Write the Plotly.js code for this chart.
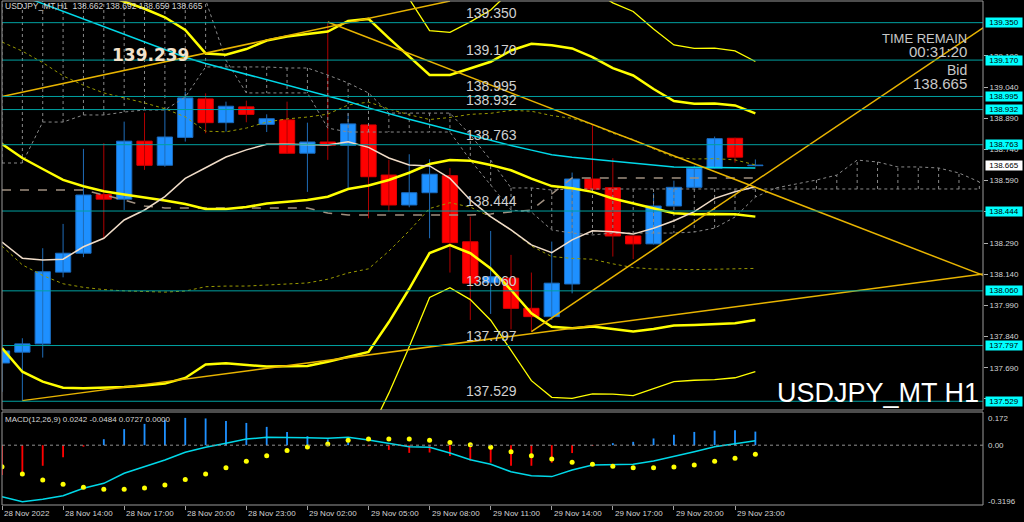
<!DOCTYPE html>
<html><head><meta charset="utf-8">
<script src="https://cdn.plot.ly/plotly-3.0.1.min.js"></script>
<style>html,body{margin:0;padding:0;background:#000;}#chart{width:1024px;height:522px;}</style>
</head><body><div id="chart"></div>
<script>
// ---- candles (H1, 28 Nov 11:00 .. 30 Nov 00:00) ----
const openP  = [137.713,137.765,137.805,138.150,138.241,138.523,138.501,138.780,138.664,138.798,138.983,138.869,138.945,138.861,138.882,138.722,138.776,138.760,138.858,138.617,138.473,138.532,138.614,138.296,138.099,138.121,137.976,137.936,138.093,138.598,138.556,138.324,138.286,138.468,138.558,138.650,138.794,138.662];
const highP  = [137.872,137.832,138.265,138.382,138.743,138.770,138.874,138.917,138.930,139.018,139.010,138.970,138.975,138.909,138.970,138.869,139.353,138.914,138.860,138.690,138.717,138.693,138.650,138.417,138.348,138.233,138.148,138.297,138.629,138.858,138.698,138.326,138.529,138.590,138.662,138.802,138.797,138.692];
const lowP   = [137.574,137.532,137.739,138.125,138.222,138.313,138.449,138.642,138.657,138.778,138.818,138.826,138.871,138.824,138.722,138.536,138.690,138.553,138.409,138.441,138.462,138.313,138.148,137.920,137.949,137.875,137.864,137.920,138.048,138.545,138.225,138.213,138.283,138.465,138.555,138.648,138.677,138.659];
const closeP = [137.771,137.805,138.152,138.241,138.521,138.501,138.780,138.664,138.800,138.988,138.869,138.948,138.909,138.888,138.722,138.776,138.760,138.863,138.609,138.473,138.532,138.621,138.292,138.097,138.128,137.976,137.936,138.097,138.598,138.549,138.324,138.286,138.468,138.558,138.650,138.792,138.703,138.665];

// ---- moving averages ----
const maSlow = [139.515,139.478,139.442,139.405,139.368,139.331,139.294,139.258,139.221,139.184,139.154,139.128,139.102,139.076,139.050,139.024,138.998,138.971,138.940,138.911,138.885,138.860,138.834,138.809,138.783,138.759,138.737,138.715,138.703,138.693,138.683,138.674,138.663,138.656,138.654,138.653,138.652,138.651];
const maFast = [138.295,138.217,138.208,138.212,138.272,138.313,138.401,138.449,138.513,138.601,138.652,138.704,138.738,138.765,138.765,138.762,138.762,138.777,138.750,138.699,138.665,138.661,138.601,138.497,138.417,138.353,138.281,138.244,138.305,138.349,138.344,138.333,138.361,138.397,138.441,138.505,138.537,138.561];

// ---- Bollinger bands ----
const bbMid = [138.766,138.699,138.646,138.594,138.563,138.539,138.524,138.511,138.495,138.478,138.454,138.454,138.463,138.480,138.490,138.497,138.513,138.550,138.567,138.593,138.628,138.670,138.689,138.686,138.665,138.640,138.600,138.564,138.553,138.536,138.504,138.480,138.454,138.433,138.428,138.430,138.428,138.417];
const bbUp2 = [139.747,139.727,139.669,139.594,139.535,139.485,139.451,139.417,139.376,139.315,139.202,139.196,139.223,139.264,139.283,139.295,139.307,139.358,139.368,139.276,139.186,139.098,139.098,139.131,139.162,139.216,139.248,139.241,139.226,139.184,139.131,139.096,139.031,138.973,138.960,138.961,138.952,138.914];
const bbLo2 = [137.785,137.671,137.623,137.594,137.591,137.593,137.597,137.605,137.614,137.641,137.706,137.712,137.703,137.696,137.697,137.699,137.719,137.742,137.766,137.910,138.070,138.242,138.280,138.241,138.168,138.064,137.952,137.887,137.880,137.888,137.877,137.864,137.877,137.893,137.896,137.899,137.904,137.920];
const bbUp3 = [140.238,140.241,140.181,140.094,140.021,139.958,139.915,139.870,139.817,139.734,139.576,139.567,139.603,139.656,139.680,139.694,139.704,139.762,139.769,139.618,139.465,139.312,139.303,139.354,139.411,139.504,139.572,139.580,139.563,139.508,139.445,139.404,139.320,139.243,139.226,139.227,139.214,139.163];
const bbLo3 = [137.294,137.157,137.111,137.094,137.105,137.120,137.133,137.152,137.173,137.222,137.332,137.341,137.323,137.304,137.300,137.300,137.322,137.338,137.365,137.568,137.791,138.028,138.075,138.018,137.919,137.776,137.628,137.548,137.543,137.564,137.563,137.556,137.588,137.623,137.630,137.633,137.642,137.671];
const bbUp1 = [139.257,139.213,139.158,139.094,139.049,139.012,138.988,138.964,138.936,138.897,138.828,138.825,138.843,138.872,138.887,138.896,138.910,138.954,138.968,138.935,138.907,138.884,138.894,138.909,138.914,138.928,138.924,138.903,138.890,138.860,138.818,138.788,138.743,138.703,138.694,138.696,138.690,138.666];
const bbLo1 = [138.275,138.185,138.134,138.094,138.077,138.066,138.060,138.058,138.054,138.059,138.080,138.083,138.083,138.088,138.093,138.098,138.116,138.146,138.166,138.251,138.349,138.456,138.484,138.463,138.416,138.352,138.276,138.225,138.216,138.212,138.190,138.172,138.165,138.163,138.162,138.164,138.166,138.168];

// ---- Ichimoku (spans run 11 bars past the last candle) ----
const spanA = [138.675,138.675,138.872,138.872,138.906,138.906,138.920,138.930,138.930,138.992,139.137,139.137,139.137,139.137,139.132,139.132,139.098,139.060,139.012,138.915,138.915,138.915,138.915,138.810,138.689,138.555,138.555,138.545,138.550,138.550,138.550,138.550,138.550,138.550,138.550,138.550,138.550,138.550,138.550,138.550,138.550,138.550,138.550,138.550,138.550,138.550,138.550,138.550,138.550];
const spanB = [139.700,139.700,139.700,139.700,139.700,139.651,139.651,139.603,139.603,139.555,139.460,139.170,139.012,139.012,139.012,139.012,138.843,138.824,138.824,138.824,138.824,138.824,138.824,138.689,138.569,138.449,138.439,138.353,138.338,138.329,138.338,138.338,138.338,138.338,138.343,138.362,138.415,138.511,138.555,138.574,138.593,138.617,138.689,138.680,138.656,138.656,138.651,138.627,138.584];
const kijun = [138.545,138.545,138.545,138.545,138.545,138.521,138.497,138.468,138.459,138.459,138.459,138.459,138.459,138.459,138.459,138.459,138.434,138.425,138.425,138.425,138.425,138.425,138.425,138.425,138.430,138.439,138.449,138.526,138.603,138.603,138.603,138.603,138.603,138.603,138.603,138.603,138.603,138.603];

// ---- MACD ----
const macdMain = [-0.275,-0.302,-0.289,-0.270,-0.230,-0.204,-0.150,-0.115,-0.079,-0.038,-0.011,0.010,0.033,0.042,0.042,0.040,0.037,0.042,0.028,0.010,-0.008,-0.011,-0.042,-0.078,-0.102,-0.142,-0.163,-0.168,-0.133,-0.106,-0.102,-0.102,-0.084,-0.061,-0.035,-0.008,0.010,0.0242];
const macdSignal = [-0.115,-0.154,-0.186,-0.209,-0.225,-0.236,-0.236,-0.229,-0.213,-0.184,-0.154,-0.120,-0.086,-0.056,-0.029,-0.010,0.006,0.026,0.033,0.033,0.033,0.026,0.015,0.003,-0.011,-0.035,-0.056,-0.074,-0.091,-0.102,-0.113,-0.120,-0.120,-0.117,-0.106,-0.086,-0.070,-0.0484];
const macdHist = [-0.160,-0.148,-0.110,-0.065,-0.008,0.032,0.086,0.114,0.134,0.146,0.143,0.130,0.119,0.098,0.071,0.048,0.031,0.016,-0.005,-0.025,-0.041,-0.039,-0.058,-0.082,-0.093,-0.110,-0.110,-0.094,-0.042,-0.004,0.011,0.018,0.036,0.056,0.071,0.078,0.080,0.0727];

// ---- levels, trend lines, labels ----
const levels = [139.350,139.170,138.995,138.932,138.763,138.444,138.060,137.797,137.529];
const bidPrice = 138.665;
const trend1X = [0, 22.0],   trend1Y = [138.995, 139.454];
const trend2X = [16, 48.2],  trend2Y = [139.353, 138.134];
const trend3X = [1, 48.2],   trend3Y = [137.532, 138.141];
const trend4X = [26, 48.2],  trend4Y = [137.864, 139.326];
const priceTicks = [137.540,137.690,137.840,137.990,138.140,138.290,138.440,138.590,138.740,138.890,139.040,139.190];
const timeTickIdx = [0,3,6,9,12,15,18,21,24,27,30,33,36];
const timeTickText = ["28 Nov 2022","28 Nov 14:00","28 Nov 17:00","28 Nov 20:00","28 Nov 23:00","29 Nov 02:00","29 Nov 05:00","29 Nov 08:00","29 Nov 11:00","29 Nov 14:00","29 Nov 17:00","29 Nov 20:00","29 Nov 23:00"];
const macdAxisVals = [0.172, 0.00, -0.3196];
const macdAxisText = ["0.172","0.00","-0.3196"];

const FONT = 'Liberation Sans, Arial, sans-serif';
const idx = openP.map((_, i) => i);
const spanIdx = spanA.map((_, i) => i);

function wickTrace(up, color) {
  const xs = [], ys = [];
  idx.forEach(i => {
    if ((closeP[i] >= openP[i]) === up) { xs.push(i, i, null); ys.push(lowP[i], highP[i], null); }
  });
  return {type:'scatter', mode:'lines', x:xs, y:ys, line:{color:color, width:1}, xaxis:'x', yaxis:'y', hoverinfo:'skip'};
}
const bodyBase = idx.map(i => Math.min(openP[i], closeP[i]));
const bodyLen = idx.map(i => Math.max(Math.abs(closeP[i] - openP[i]), 0.002));
const bodyFill = idx.map(i => closeP[i] >= openP[i] ? '#1E90FF' : '#FF0000');
const bodyEdge = idx.map(i => closeP[i] >= openP[i] ? '#1B6CC0' : '#E00000');

const hatchX = [], hatchY = [];
spanIdx.forEach(i => { hatchX.push(i, i, null); hatchY.push(spanA[i], spanB[i], null); });

function line(x, y, color, width, dash, yaxis) {
  return {type:'scatter', mode:'lines', x:x, y:y, line:{color:color, width:width, dash:dash || 'solid'}, xaxis:'x', yaxis:yaxis || 'y', hoverinfo:'skip', connectgaps:false};
}

const traces = [
  wickTrace(true, '#1F6CB8'),
  wickTrace(false, '#B00000'),
  {type:'bar', x:idx, y:bodyLen, base:bodyBase, width:0.75, marker:{color:bodyFill, line:{color:bodyEdge, width:1}}, xaxis:'x', yaxis:'y', hoverinfo:'skip'},
  line(hatchX, hatchY, '#8A8A8A', 1, 'dot'),
  line(spanIdx, spanA, '#8A8A8A', 1, 'dot'),
  line(spanIdx, spanB, '#8A8A8A', 1, 'dot'),
  line(idx, kijun, '#A09080', 1.5, 'dash'),
  line(idx, bbUp1, '#9A9A00', 1, 'dot'),
  line(idx, bbLo1, '#9A9A00', 1, 'dot'),
  line(idx, bbUp3, '#FFFF00', 1.3),
  line(idx, bbLo3, '#FFFF00', 1.3),
  line(idx, bbUp2, '#FFFF00', 2.5),
  line(idx, bbLo2, '#FFFF00', 2.5),
  line(idx, bbMid, '#FFFF00', 2.5),
  line(idx, maSlow, '#00D8E8', 1.5),
  line(idx, maFast, '#F0DCC8', 1.5),
  line(trend1X, trend1Y, '#E8B400', 1.5),
  line(trend2X, trend2Y, '#E8B400', 1.5),
  line(trend3X, trend3Y, '#E8B400', 1.5),
  line(trend4X, trend4Y, '#E8B400', 1.5),
  {type:'bar', x:idx, y:macdHist, width:0.09, marker:{color:macdHist.map(v => v >= 0 ? '#1E90FF' : '#FF0000')}, xaxis:'x', yaxis:'y2', hoverinfo:'skip'},
  line(idx, macdMain, '#00D8E8', 1.5, 'solid', 'y2'),
  {type:'scatter', mode:'markers', x:idx, y:macdSignal, marker:{color:'#FFFF00', size:5}, xaxis:'x', yaxis:'y2', hoverinfo:'skip'}
];

const PLOT_L = 2, PLOT_R = 983, PLOT_T = 1, PLOT_B = 505;
const px = x => (x - PLOT_L) / (PLOT_R - PLOT_L);
const py = y => (PLOT_B - y) / (PLOT_B - PLOT_T);

const shapes = [];
levels.forEach(lv => shapes.push({type:'line', xref:'paper', x0:0, x1:1, yref:'y', y0:lv, y1:lv, line:{color:'#00A0A0', width:1}}));
shapes.push({type:'line', xref:'paper', x0:0, x1:1, yref:'y2', y0:0, y1:0, line:{color:'#909090', width:1, dash:'dot'}});
shapes.push({type:'rect', xref:'paper', x0:0, x1:1, yref:'y domain', y0:0, y1:1, line:{color:'#9A9A9A', width:1}});
shapes.push({type:'rect', xref:'paper', x0:0, x1:1, yref:'y2 domain', y0:0, y1:1, line:{color:'#9A9A9A', width:1}});

const ann = [];
const txt = (o) => Object.assign({showarrow:false, font:{family:FONT, size:8, color:'#D4D4D4'}}, o);
ann.push(txt({xref:'paper', yref:'paper', x:px(3), y:py(6.5), xanchor:'left', yanchor:'middle', text:'USDJPY_MT,H1  138.662 138.692 138.659 138.665', font:{family:FONT, size:8.5, color:'#D4D4D4'}}));
ann.push(txt({xref:'paper', yref:'paper', x:px(150), y:py(55), xanchor:'center', yanchor:'middle', text:'<b>139.239</b>', font:{family:'DejaVu Sans, sans-serif', size:17, color:'#F2E2CC'}}));
ann.push(txt({xref:'paper', yref:'paper', x:px(969), y:py(39), xanchor:'right', yanchor:'middle', text:'TIME REMAIN', font:{family:FONT, size:13, color:'#C8C8C8'}}));
ann.push(txt({xref:'paper', yref:'paper', x:px(969), y:py(52), xanchor:'right', yanchor:'middle', text:'00:31:20', font:{family:FONT, size:15, color:'#C8C8C8'}}));
ann.push(txt({xref:'paper', yref:'paper', x:px(969), y:py(70), xanchor:'right', yanchor:'middle', text:'Bid', font:{family:FONT, size:14, color:'#C8C8C8'}}));
ann.push(txt({xref:'paper', yref:'paper', x:px(969), y:py(84), xanchor:'right', yanchor:'middle', text:bidPrice.toFixed(3), font:{family:FONT, size:15, color:'#C8C8C8'}}));
ann.push(txt({xref:'paper', yref:'paper', x:px(981), y:py(393), xanchor:'right', yanchor:'middle', text:'USDJPY_MT H1', font:{family:FONT, size:27, color:'#FFFFFF'}}));
levels.forEach(lv => {
  ann.push(txt({xref:'paper', yref:'y', x:px(464), y:lv, xanchor:'left', yanchor:'bottom', text:lv.toFixed(3), font:{family:FONT, size:14, color:'#D0D0D0'}}));
  ann.push(txt({xref:'paper', yref:'y', x:1, xshift:2, y:lv, xanchor:'left', yanchor:'middle', text:lv.toFixed(3), bgcolor:'#00FFFF', width:36, height:9, borderpad:0, font:{family:FONT, size:8, color:'#000000'}}));
});
ann.push(txt({xref:'paper', yref:'y', x:1, xshift:2, y:bidPrice, xanchor:'left', yanchor:'middle', text:bidPrice.toFixed(3), bgcolor:'#FFFFFF', width:36, height:9, borderpad:0, font:{family:FONT, size:8, color:'#000000'}}));
timeTickIdx.forEach((t, k) => ann.push(txt({xref:'x', yref:'paper', x:t, y:0, yshift:-2, xanchor:'left', yanchor:'top', text:timeTickText[k]})));
ann.push(txt({xref:'paper', yref:'paper', x:px(3), y:py(420), xanchor:'left', yanchor:'middle', text:'MACD(12,26,9) 0.0242 -0.0484 0.0727 0.0000'}));
const macdLabelY = [419, 445.5, 501];
macdAxisVals.forEach((v, k) => ann.push(txt({xref:'paper', yref:'paper', x:1, xshift:3, y:py(macdLabelY[k]), xanchor:'left', yanchor:'middle', text:macdAxisText[k]})));

const layout = {
  width:1024, height:522,
  margin:{l:PLOT_L, r:1024-PLOT_R, t:PLOT_T, b:522-PLOT_B, pad:0},
  paper_bgcolor:'#000000', plot_bgcolor:'#000000',
  showlegend:false, barmode:'overlay', hovermode:false,
  xaxis:{anchor:'y2', range:[0, 48.18], showgrid:false, zeroline:false, showline:false,
         tickvals:timeTickIdx, ticks:'outside', ticklen:4, tickcolor:'#A0A0A0', showticklabels:false, fixedrange:true},
  yaxis:{domain:[py(410), 1], side:'right', range:[137.4869, 139.4542], showgrid:false, zeroline:false,
         tickvals:priceTicks, ticktext:priceTicks.map(v => v.toFixed(3)), ticks:'outside', ticklen:4, tickcolor:'#B0B0B0',
         tickfont:{family:FONT, size:8, color:'#D4D4D4'}, showline:false, fixedrange:true},
  yaxis2:{domain:[0, py(412)], side:'right', range:[-0.3198, 0.1775], showgrid:false, zeroline:false,
          showticklabels:false, ticks:'', fixedrange:true},
  shapes:shapes, annotations:ann
};
Plotly.newPlot('chart', traces, layout, {displayModeBar:false, staticPlot:true});
</script></body></html>
